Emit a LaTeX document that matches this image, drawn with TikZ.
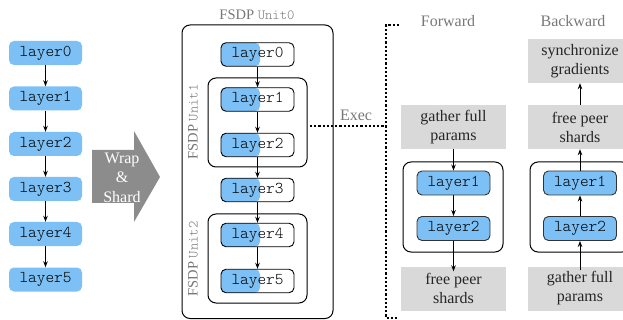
\documentclass[tikz,border=0pt]{standalone}
\usepackage{fontspec}
\setmainfont{Liberation Serif}
\setmonofont{Latin Modern Mono Light}
\usetikzlibrary{arrows.meta}
\definecolor{lblue}{RGB}{125,192,245}
\definecolor{lgray}{RGB}{217,217,217}
\definecolor{agray}{RGB}{140,140,140}
\definecolor{tgray}{RGB}{120,120,120}
\tikzset{
  plain/.style={fill=lblue,rounded corners=5pt,minimum width=73pt,minimum height=24pt,inner sep=0pt,font=\fontsize{16.5}{16.5}\selectfont\ttfamily},
  halfbox/.style={draw=black,line width=0.9pt,rounded corners=5pt,minimum width=73pt,minimum height=23.5pt,inner sep=0pt,font=\fontsize{16.5}{16.5}\selectfont\ttfamily,
    path picture={\fill[lblue,rounded corners=5pt] (path picture bounding box.south west) rectangle ([xshift=39pt]path picture bounding box.north west);}},
  bluebox/.style={draw=black!80,fill=lblue,line width=0.9pt,rounded corners=5pt,minimum width=73pt,minimum height=24pt,inner sep=0pt,font=\fontsize{16.5}{16.5}\selectfont\ttfamily},
  graybox/.style={fill=lgray,minimum width=105pt,minimum height=44pt,inner sep=0pt,align=center,font=\fontsize{16}{19}\selectfont,text=black!85},
  container/.style={draw=black,line width=1pt,rounded corners=8pt},
  flow/.style={-{Stealth[length=6pt,width=4.5pt]},line width=0.9pt},
  titletext/.style={text=tgray,font=\fontsize{16}{16}\selectfont},
  unitlabel/.style={text=tgray,font=\fontsize{14.5}{14.5}\selectfont},
  execline/.style={line width=1.2pt,dash pattern=on 2.2pt off 2pt}
}
\newcommand{\utt}[1]{{\fontsize{14}{14}\selectfont\ttfamily #1}}
\begin{document}
\begin{tikzpicture}[x=1pt,y=-1pt]
\useasboundingbox (0,0) rectangle (623,320);
\clip (0,0) rectangle (623,320);
% left column
\node[plain] (l0) at (45.5,53) {layer0};
\node[plain] (l1) at (45.5,98.5) {layer1};
\node[plain] (l2) at (45.5,144) {layer2};
\node[plain] (l3) at (45.5,189) {layer3};
\node[plain] (l4) at (45.5,234) {layer4};
\node[plain] (l5) at (45.5,279.5) {layer5};
\foreach \a/\b in {l0/l1,l1/l2,l2/l3,l3/l4,l4/l5} \draw[flow] (\a) -- (\b);
% wrap arrow
\fill[agray] (92,150) -- (134,150) -- (134,131) -- (160,177) -- (134,222) -- (134,203) -- (92,203) -- cycle;
\node[text=white,align=center,font=\fontsize{16}{19.5}\selectfont] (wrap) at (122,177.5) {Wrap\\\&\\Shard};
% middle
\draw[container] (182,25) rectangle (333,318.5);
\node[unitlabel] (t0) at (257,15) {FSDP \utt{Unit0}};
\draw[container] (208,78) rectangle (307,167);
\draw[container] (208,214) rectangle (307,303);
\node[unitlabel,rotate=90] (t1) at (193,122) {FSDP \utt{Unit1}};
\node[unitlabel,rotate=90] (t2) at (193,259) {FSDP \utt{Unit2}};
\node[halfbox] (m0) at (257.5,54.5) {layer0};
\node[halfbox] (m1) at (257.5,99.5) {layer1};
\node[halfbox] (m2) at (257.5,145) {layer2};
\node[halfbox] (m3) at (257.5,190) {layer3};
\node[halfbox] (m4) at (257.5,235) {layer4};
\node[halfbox] (m5) at (257.5,281) {layer5};
\foreach \a/\b in {m0/m1,m1/m2,m2/m3,m3/m4,m4/m5} \draw[flow] (\a) -- (\b);
% exec
\coordinate (e0) at (310,126);
\coordinate (e1) at (386,126);
\coordinate (bt) at (399,25);
\coordinate (bb) at (399,318);
\draw[execline] (e0) -- (e1);
\draw[execline] (bt) -- (386,25) -- (386,318) -- (bb);
\node[titletext] (exec) at (356,115) {Exec};
% forward
\node[titletext] (fw) at (448,21) {Forward};
\node[titletext] (bw) at (573,21) {Backward};
\draw[container] (403,162) rectangle (503,252);
\node[graybox] (fg) at (453.5,127) {gather full\\params};
\node[bluebox] (f1) at (453.5,183) {layer1};
\node[bluebox] (f2) at (453.5,228.5) {layer2};
\node[graybox] (ff) at (453.5,288.5) {free peer\\shards};
\draw[flow] (fg) -- (f1);
\draw[flow] (f1) -- (f2);
\draw[flow] (f2) -- ([yshift=-5pt]ff.north);
% backward
\draw[container] (530,162) rectangle (630,252);
\node[graybox] (bs) at (580,61) {synchronize\\gradients};
\node[graybox] (bf) at (580,127) {free peer\\shards};
\node[bluebox] (b1) at (580,183) {layer1};
\node[bluebox] (b2) at (580,228.5) {layer2};
\node[graybox] (bg) at (580,288.5) {gather full\\params};
\draw[flow] ([yshift=-4pt]bg.north) -- (b2);
\draw[flow] (b2) -- (b1);
\draw[flow] (b1) -- (bf);
\draw[flow] (bf) -- (bs);
\end{tikzpicture}
\end{document}
